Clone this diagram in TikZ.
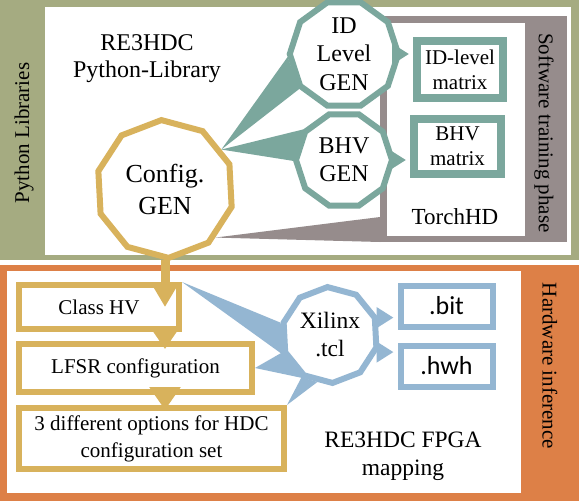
\documentclass[tikz,border=0pt]{standalone}
\usepackage{fontspec}
\setmainfont{Liberation Serif}
\newfontfamily\calibrifont{Carlito}
\usetikzlibrary{arrows.meta,shapes.geometric}
\pgfdeclarelayer{background}
\pgfsetlayers{background,main}
\definecolor{olivec}{HTML}{A5AB81}
\definecolor{orangec}{HTML}{DD8047}
\definecolor{goldc}{HTML}{D8B25C}
\definecolor{tealc}{HTML}{7BA79D}
\definecolor{grayc}{HTML}{968C8C}
\definecolor{bluec}{HTML}{94B6D2}
\tikzstyle{panel}=[inner sep=0pt,outer sep=0pt]
\tikzstyle{gen}=[regular polygon,regular polygon sides=10,fill=white,line width=6pt,inner sep=0pt,align=center]
\tikzstyle{box}=[rectangle,fill=white,line width=6pt,inner sep=0pt,align=center,font=\fontsize{21}{27}\selectfont]
\tikzstyle{link}=[line width=5pt,-{Triangle[length=17pt,width=20pt]},shorten >=4pt]
\tikzstyle{gold link}=[draw=goldc,line width=6pt]
\tikzstyle{side label}=[font=\fontsize{21}{25}\selectfont]

\begin{document}
\begin{tikzpicture}[x=1pt,y=-1pt]
    \useasboundingbox (0,0) rectangle (579,501);
    % First the coloured frames
    \begin{pgfonlayer}{background}
    \node[panel,fill=olivec,minimum width=579pt,minimum height=260pt] (pyframe) at (289.5,130) {};
    \node[panel,fill=white,minimum width=526pt,minimum height=248pt] (pyarea) at (308,131) {};
    \node[panel,fill=orangec,minimum width=579pt,minimum height=236pt] (hwframe) at (289.5,383) {};
    \node[panel,fill=white,minimum width=514pt,minimum height=222pt] (hwarea) at (264,382) {};
    \node[panel,fill=grayc,minimum width=187pt,minimum height=226pt] (torch) at (473.5,129) {};
    \node[panel,fill=white,minimum width=138pt,minimum height=213pt] (torcharea) at (456,129.5) {};
    \end{pgfonlayer}

    % Generator polygons
    \node[gen,draw=goldc,minimum size=138pt,shape border rotate=21,font=\fontsize{26}{32}\selectfont] (config) at (165,189) {Config.\\GEN};
    \node[gen,draw=tealc,minimum size=96pt,font=\fontsize{24}{28.5}\selectfont] (idgen) at (344,54) {ID\\Level\\GEN};
    \node[gen,draw=tealc,minimum size=96pt,font=\fontsize{24}{28}\selectfont] (bhvgen) at (344,160) {BHV\\GEN};
    \node[gen,draw=bluec,minimum size=96pt,shape border rotate=21,font=\fontsize{23.5}{28}\selectfont] (xilinx) at (330,335) {Xilinx\\.tcl};

    % Output and configuration boxes
    \node[box,draw=tealc,line width=8pt,minimum width=86pt,minimum height=57pt,font=\fontsize{21}{25}\selectfont] (idmat) at (460,69.5) {ID-level\\matrix};
    \node[box,draw=tealc,line width=8pt,minimum width=87pt,minimum height=55pt,font=\fontsize{21}{25}\selectfont] (bhvmat) at (457.5,146.5) {BHV\\matrix};
    \node[box,draw=goldc,minimum width=160pt,minimum height=44pt] (classhv) at (99,307) {Class HV};
    \node[box,draw=goldc,minimum width=233pt,minimum height=48pt] (lfsr) at (135.5,368) {LFSR configuration};
    \node[box,draw=goldc,minimum width=265pt,minimum height=61pt] (options) at (151.5,438.5) {3 different options for HDC\\configuration set};
    \node[box,draw=bluec,minimum width=92pt,minimum height=41pt,font=\calibrifont\fontsize{26}{30}\selectfont] (bit) at (446.5,306) {.bit};
    \node[box,draw=bluec,minimum width=92pt,minimum height=41pt,font=\calibrifont\fontsize{26}{30}\selectfont] (hwh) at (446.5,366) {.hwh};

    % Tapered connectors behind the polygons
    \begin{pgfonlayer}{background}
    \foreach \src/\dest/\a/\b/\col in {config.35/idgen/183/218/tealc, config.35/bhvgen/143/181/tealc, classhv.north east/xilinx/166/204/bluec, lfsr.east/xilinx/200/238/bluec, options.north east/xilinx/236/255/bluec}
        \fill[\col] (\src) -- (\dest.\a) -- (\dest.\b) -- cycle;
    \fill[grayc] (config.316) -- ([yshift=25pt]torch.south west) -- (torch.south west) -- cycle;
    \end{pgfonlayer}

    % Arrows
    \draw[link,draw=tealc] (idgen.east) -- (idgen.east -| idmat.west);
    \draw[link,draw=tealc] (bhvgen.east) -- (bhvgen.east -| bhvmat.west);
    \draw[link,draw=bluec] (xilinx.20) -- (xilinx.20 -| bit.west);
    \draw[link,draw=bluec] (xilinx.340) -- (xilinx.340 -| hwh.west);
    \draw[gold link,line width=9pt,-{Triangle[length=22pt,width=24pt]}] (config.south) -- (config.south |- classhv.center);
    \draw[gold link,-{Triangle[length=17pt,width=22pt]},shorten >=-8pt] (config.south |- classhv.south) -- (config.south |- lfsr.north);
    \draw[gold link,-{Triangle[length=23pt,width=30pt]},shorten >=-5pt] (config.south |- lfsr.south) -- (config.south |- options.north);

    % Titles and side labels
    \node[font=\fontsize{24}{27}\selectfont,align=center] (pytitle) at (147,59) {RE3HDC\\Python-Library};
    \node[font=\fontsize{23}{27}\selectfont] (torchname) at (455,217) {TorchHD};
    \node[font=\fontsize{23.5}{28}\selectfont,align=center] (fpgatitle) at (403,456) {RE3HDC FPGA\\mapping};
    \node[side label,rotate=90] (pylabel) at (24,133) {Python Libraries};
    \node[side label,rotate=-90] (swlabel) at (544,133) {Software training phase};
    \node[side label,rotate=-90] (hwlabel) at (550,366) {Hardware inference};
\end{tikzpicture}
\end{document}
